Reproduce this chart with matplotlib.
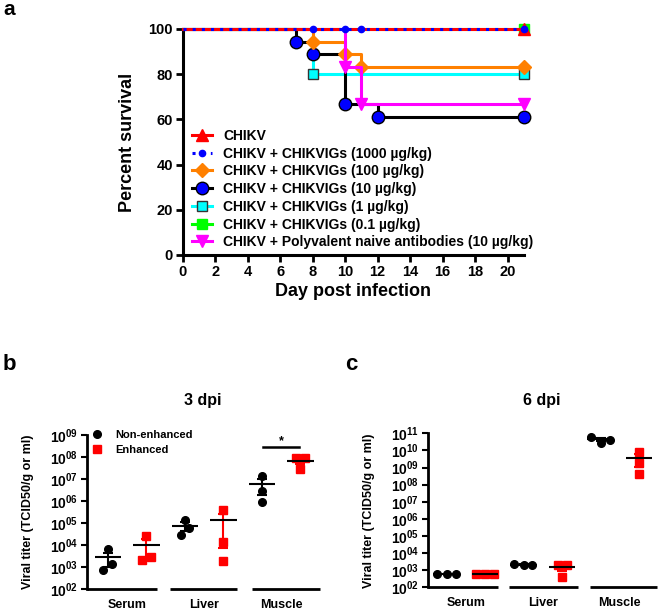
import matplotlib
matplotlib.use('Agg')

import matplotlib.pyplot as plt
import matplotlib.transforms as mtransforms
from matplotlib.lines import Line2D
from matplotlib.ticker import FuncFormatter
import numpy as np

plt.rcParams['font.family'] = ['Liberation Sans', 'DejaVu Sans']
plt.rcParams['font.weight'] = 'bold'
plt.rcParams['axes.labelweight'] = 'bold'
plt.rcParams['mathtext.fontset'] = 'custom'
plt.rcParams['mathtext.bf'] = 'Liberation Sans:bold'
plt.rcParams['mathtext.rm'] = 'Liberation Sans:bold'

# panel a: Kaplan-Meier survival (percent)
labels_a = ['CHIKV',
            'CHIKV + CHIKVIGs (1000 µg/kg)',
            'CHIKV + CHIKVIGs (100 µg/kg)',
            'CHIKV + CHIKVIGs (10 µg/kg)',
            'CHIKV + CHIKVIGs (1 µg/kg)',
            'CHIKV + CHIKVIGs (0.1 µg/kg)',
            'CHIKV + Polyvalent naive antibodies (10 µg/kg)']
days_chikv = [0, 21]
surv_chikv = [100, 100]
days_1000 = [0, 21]
surv_1000 = [100, 100]
censor_1000 = [8, 10, 11, 21]
days_100 = [0, 8, 10, 11, 21]
surv_100 = [100, 94.4, 88.9, 83.3, 83.3]
days_10 = [0, 7, 8, 10, 12, 21]
surv_10 = [100, 94.4, 88.9, 66.7, 61.1, 61.1]
days_1 = [0, 8, 21]
surv_1 = [100, 80, 80]
days_01 = [0, 21]
surv_01 = [100, 100]
days_poly = [0, 10, 11, 21]
surv_poly = [100, 83.3, 66.7, 66.7]

# panels b, c: log10 viral titer, three animals per group
organs = ['Serum', 'Liver', 'Muscle']
b_non = [[3.81, 3.13, 2.88], [5.14, 4.77, 4.46], [7.14, 6.47, 5.97]]
b_enh = [[4.43, 3.33, 3.48], [5.60, 4.13, 3.30], [7.95, 7.95, 7.46]]
c_non = [[2.78, 2.78, 2.78], [3.36, 3.29, 3.32], [10.80, 10.45, 10.61]]
c_enh = [[2.78, 2.78, 2.78], [3.30, 3.30, 2.62], [9.93, 9.25, 8.62]]

# horizontal spread of the dots inside a column (scatter layout)
b_non_jit = [[0, 0.056, -0.06], [0, 0.056, -0.056], [0, 0, 0]]
b_enh_jit = [[0, -0.06, 0.057], [0, 0, 0], [-0.058, 0.058, 0]]
c_non_jit = [[-0.13, 0, 0.12], [-0.12, 0, 0.11], [-0.12, 0, 0.12]]
c_enh_jit = [[-0.12, 0, 0.12], [-0.05, 0.065, 0.005], [0, 0, 0]]

fig = plt.figure(figsize=(6.6, 6.1), dpi=100)

# ---------------- panel a ----------------
ax = fig.add_axes([0.2768, 0.582, 0.517, 0.3705])
lw = 2.2
ax.plot(days_01, surv_01, color='#00FF00', lw=lw, drawstyle='steps-post', clip_on=False, zorder=2)
ax.plot(days_01[1:], surv_01[1:], 's', color='#00FF00', ms=7, clip_on=False, zorder=2)
ax.plot(days_1, surv_1, color='#00FFFF', lw=lw, drawstyle='steps-post', clip_on=False, zorder=3)
ax.plot(days_1[1:], surv_1[1:], 's', mfc='#00FFFF', mec='#333333', mew=1, ms=7, clip_on=False, zorder=3)
ax.plot(days_10, surv_10, color='black', lw=lw, drawstyle='steps-post', clip_on=False, zorder=4)
ax.plot(days_10[1:], surv_10[1:], 'o', mfc='#0000FF', mec='black', mew=1, ms=9, clip_on=False, zorder=4)
ax.plot(days_100, surv_100, color='#FF8000', lw=lw, drawstyle='steps-post', clip_on=False, zorder=5)
ax.plot(days_100[1:], surv_100[1:], 'D', color='#FF8000', ms=7, clip_on=False, zorder=5)
ax.plot(days_poly, surv_poly, color='#FF00FF', lw=lw, drawstyle='steps-post', clip_on=False, zorder=6)
ax.plot(days_poly[1:], surv_poly[1:], 'v', color='#FF00FF', ms=8, clip_on=False, zorder=6)
ax.plot(days_chikv, surv_chikv, color='#FF0000', lw=lw, drawstyle='steps-post', clip_on=False, zorder=7)
ax.plot(days_chikv[1:], surv_chikv[1:], '^', color='#FF0000', ms=8, clip_on=False, zorder=7)
ax.plot(days_1000, surv_1000, color='#0000FF', lw=lw, ls=(0, (1, 2)), clip_on=False, zorder=8)
ax.plot(censor_1000, [100] * len(censor_1000), 'o', color='#0000FF', ms=4.5, clip_on=False, zorder=8)

ax.set_xlim(0, 21)
ax.set_ylim(0, 100)
ax.set_xticks(range(0, 21, 2))
ax.set_yticks(range(0, 101, 20))
for s in ['top', 'right']:
    ax.spines[s].set_visible(False)
for s in ['left', 'bottom']:
    ax.spines[s].set_linewidth(2.2)
ax.tick_params(width=2, length=5, labelsize=10.5, pad=2)
ax.set_ylabel('Percent survival', fontsize=13)
ax.set_xlabel('Day post infection', fontsize=13)
ax.yaxis.set_label_coords(-0.137, 0.5)
ax.xaxis.set_label_coords(0.5, -0.125)

handles = [
    Line2D([], [], color='#FF0000', lw=lw, marker='^', ms=8),
    Line2D([], [], color='#0000FF', lw=lw, ls=(0, (1, 2)), marker='o', ms=4.5),
    Line2D([], [], color='#FF8000', lw=lw, marker='D', ms=7),
    Line2D([], [], color='black', lw=lw, marker='o', mfc='#0000FF', mec='black', ms=9),
    Line2D([], [], color='#00FFFF', lw=lw, marker='s', mfc='#00FFFF', mec='#333333', ms=7),
    Line2D([], [], color='#00FF00', lw=lw, marker='s', ms=7),
    Line2D([], [], color='#FF00FF', lw=lw, marker='v', ms=8),
]
ax.legend(handles, labels_a, loc='lower left', bbox_to_anchor=(0.026, 0.025),
          frameon=False, fontsize=10, handlelength=1.5, handletextpad=0.76,
          labelspacing=0.27, borderpad=0, borderaxespad=0)


# ---------------- panels b, c ----------------
def exp_label(v, pos):
    e = int(round(np.log10(v)))
    return r'$\mathbf{10^{%02d}}$' % e


def titer_panel(rect, non, enh, jit_non, jit_enh, ytop, xlim, segs, lab_x):
    ax = fig.add_axes(rect)
    for g in range(3):
        groups = [(non[g], jit_non[g], -0.25, 'black', 'o'),
                  (enh[g], jit_enh[g], 0.25, '#FF0000', 's')]
        for vals, jit, off, col, mk in groups:
            lin = 10 ** np.array(vals)
            xs = g + off + np.array(jit)
            ax.plot(xs, lin, mk, color=col, ms=5.5, ls='none', clip_on=False, zorder=3)
            m = lin.mean()
            sem = lin.std(ddof=1) / np.sqrt(len(lin))
            if sem > 0:
                ax.errorbar(g + off, m, yerr=sem, color=col, capsize=3.5,
                            elinewidth=1.5, capthick=1.5, zorder=4)
            ax.hlines(m, g + off - 0.17, g + off + 0.17, color='black', lw=1.5, zorder=5)
    ax.set_yscale('log')
    ax.set_ylim(1e2, 10.0 ** ytop)
    ax.set_yticks([10.0 ** k for k in range(2, ytop + 1)])
    ax.yaxis.set_major_formatter(FuncFormatter(exp_label))
    ax.minorticks_off()
    ax.set_xlim(*xlim)
    ax.set_xticks([0, 1, 2])
    ax.set_xticklabels(organs)
    for s in ['top', 'right', 'bottom']:
        ax.spines[s].set_visible(False)
    ax.spines['left'].set_linewidth(2)
    ax.tick_params(axis='y', width=1.5, length=4, labelsize=10, pad=2)
    ax.tick_params(axis='x', length=0, labelsize=9, pad=7)
    trans = mtransforms.blended_transform_factory(ax.transData, ax.transAxes)
    for x0, x1 in segs:
        ax.plot([x0, x1], [0, 0], transform=trans, color='black', lw=2,
                clip_on=False, solid_capstyle='butt')
    ax.set_ylabel('Viral titer (TCID50/g or ml)', fontsize=9)
    ax.yaxis.set_label_coords(lab_x, 0.5)
    return ax


axb = titer_panel([0.1314, 0.0339, 0.3535, 0.253], b_non, b_enh, b_non_jit, b_enh_jit, 9,
                  (-0.526, 2.504), [(-0.526, 0.383), (0.556, 1.422), (1.617, 2.504)], -0.226)
axb.plot([1.76, 2.235], [10 ** 8.44, 10 ** 8.44], color='black', lw=1.8)
axb.text(2.0, 10 ** 8.47, '*', ha='center', va='bottom', fontsize=9)
axb.legend([Line2D([], [], marker='o', color='black', ls='none', ms=5.5),
            Line2D([], [], marker='s', color='#FF0000', ls='none', ms=5.5)],
           ['Non-enhanced', 'Enhanced'], loc='upper left', bbox_to_anchor=(0.022, 1.032),
           frameon=False, fontsize=8, handlelength=1, handletextpad=1.09,
           labelspacing=0.48, borderpad=0, borderaxespad=0)

axc = titer_panel([0.648, 0.0372, 0.347, 0.2525], c_non, c_enh, c_non_jit, c_enh_jit, 11,
                  (-0.495, 2.48), [(-0.495, 0.414), (0.565, 1.461), (1.613, 2.48)], -0.232)

fig.text(203 / 660, 1 - 400 / 610, '3 dpi', ha='center', va='center', fontsize=11.5)
fig.text(542 / 660, 1 - 400 / 610, '6 dpi', ha='center', va='center', fontsize=11.5)
fig.text(3 / 660, 1 - 15 / 610, 'a', ha='left', va='baseline', fontsize=15)
fig.text(3 / 660, 1 - 370 / 610, 'b', ha='left', va='baseline', fontsize=16)
fig.text(345 / 660, 1 - 370 / 610, 'c', ha='left', va='baseline', fontsize=16)

fig.savefig('out.png', dpi=100)
